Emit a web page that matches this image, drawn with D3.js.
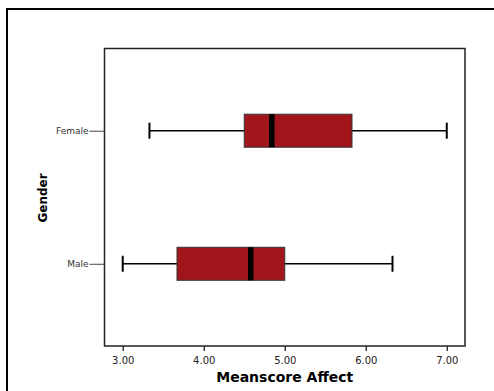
<!DOCTYPE html>
<html>
<head>
<meta charset="utf-8">
<script src="https://cdn.jsdelivr.net/npm/d3@7"></script>
<style>
  body { margin: 0; background: #fff; }
  svg { display: block; }
</style>
</head>
<body>
<svg id="chart" width="494" height="391"></svg>
<script>
(function () {
  "use strict";

  const GROUPS = ['Female', 'Male'];
  const WHISKER_LOW = [3.33, 3.00];
  const Q1 = [4.50, 3.67];
  const MEDIAN = [4.84, 4.58];
  const Q3 = [5.83, 5.00];
  const WHISKER_HIGH = [7.00, 6.33];
  const X_TICKS = [3, 4, 5, 6, 7];

  let svg = d3.select('#chart'),
    left = 104.5,
    right = 465,
    top = 48.5,
    bottom = 346,
    boxH = 33,
    font = 'DejaVu Sans, Verdana, sans-serif';

  let rows = GROUPS.map(function (g, i) {
    return { name: g, lo: WHISKER_LOW[i], q1: Q1[i], med: MEDIAN[i], q3: Q3[i], hi: WHISKER_HIGH[i] };
  });

  let x = d3.scaleLinear().domain([2.775, 7.225]).range([left, right]);
  let y = d3.scalePoint().domain(GROUPS).range([top, bottom]).padding(0.618);

  // outer frame
  svg.append('rect')
    .attr('x', 7).attr('y', 9)
    .attr('width', 500).attr('height', 400)
    .attr('fill', 'none')
    .attr('stroke', '#000')
    .attr('stroke-width', 2);

  /*
   * boxes
   */
  let g = svg.append('g');

  g.selectAll('line.whisker')
    .data(rows)
    .enter()
    .append('line')
    .attr('x1', function (d) { return x(d.lo); })
    .attr('x2', function (d) { return x(d.hi); })
    .attr('y1', function (d) { return y(d.name); })
    .attr('y2', function (d) { return y(d.name); })
    .attr('stroke', '#000')
    .attr('stroke-width', 1.5);

  ['lo', 'hi'].forEach(function (k) {
    g.selectAll('line.cap-' + k)
      .data(rows)
      .enter()
      .append('line')
      .attr('x1', function (d) { return x(d[k]); })
      .attr('x2', function (d) { return x(d[k]); })
      .attr('y1', function (d) { return y(d.name) - 8; })
      .attr('y2', function (d) { return y(d.name) + 8; })
      .attr('stroke', '#000')
      .attr('stroke-width', 2);
  });

  g.selectAll('rect.box')
    .data(rows)
    .enter()
    .append('rect')
    .attr('x', function (d) { return x(d.q1); })
    .attr('y', function (d) { return y(d.name) - boxH / 2; })
    .attr('width', function (d) { return x(d.q3) - x(d.q1); })
    .attr('height', boxH)
    .attr('fill', '#a0161b')
    .attr('stroke', '#333')
    .attr('stroke-width', 1);

  g.selectAll('line.median')
    .data(rows)
    .enter()
    .append('line')
    .attr('x1', function (d) { return x(d.med); })
    .attr('x2', function (d) { return x(d.med); })
    .attr('y1', function (d) { return y(d.name) - boxH / 2; })
    .attr('y2', function (d) { return y(d.name) + boxH / 2; })
    .attr('stroke', '#000')
    .attr('stroke-width', 5.5);

  // plot frame
  svg.append('rect')
    .attr('x', left).attr('y', top)
    .attr('width', right - left).attr('height', bottom - top)
    .attr('fill', 'none')
    .attr('stroke', '#222')
    .attr('stroke-width', 1.5);

  /*
   * axes
   */
  let xAxis = svg.append('g')
    .attr('transform', 'translate(0,' + bottom + ')')
    .call(d3.axisBottom(x).tickValues(X_TICKS).tickSize(5)
      .tickFormat(d3.format('.2f')));
  xAxis.select('.domain').remove();
  xAxis.selectAll('line').attr('stroke', '#222').attr('stroke-width', 1.3);
  xAxis.selectAll('text')
    .attr('y', 18)
    .attr('dy', 0)
    .attr('font-family', font)
    .attr('font-size', 10)
    .attr('fill', '#222');

  let yAxis = svg.append('g')
    .attr('transform', 'translate(' + left + ',0)')
    .call(d3.axisLeft(y).tickSize(15).tickPadding(1));
  yAxis.select('.domain').remove();
  yAxis.selectAll('line').attr('stroke', '#444').attr('stroke-width', 1);
  yAxis.selectAll('text')
    .attr('font-family', font)
    .attr('font-size', 9)
    .attr('fill', '#333');

  svg.append('text')
    .attr('x', (x(3) + x(7)) / 2)
    .attr('y', 382)
    .attr('text-anchor', 'middle')
    .attr('font-family', font)
    .attr('font-weight', 'bold')
    .attr('font-size', 14)
    .text('Meanscore Affect');

  svg.append('text')
    .attr('transform', 'translate(47,198) rotate(-90)')
    .attr('text-anchor', 'middle')
    .attr('font-family', font)
    .attr('font-weight', 'bold')
    .attr('font-size', 12)
    .text('Gender');
}());
</script>
</body>
</html>
